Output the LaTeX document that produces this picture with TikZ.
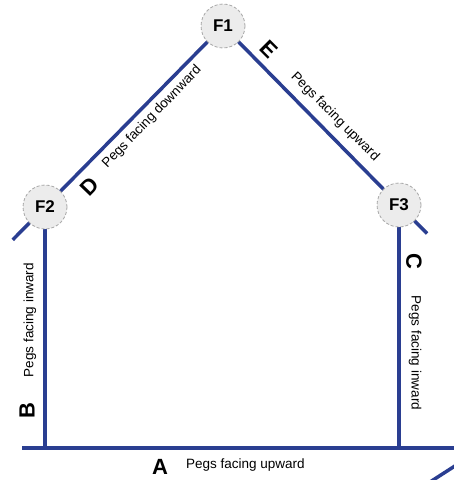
\documentclass[tikz,border=0pt]{standalone}
\usepackage{fontspec}
\setmainfont{Liberation Sans}
\usetikzlibrary{calc,backgrounds}
\definecolor{wallblue}{RGB}{42,62,145}

\begin{document}
\begin{tikzpicture}[x=1pt, y=-1pt,
  wall/.style={draw=wallblue, line width=3.5pt},
  fixpt/.style={circle, draw=gray!70, densely dashed, line width=0.8pt, fill=gray!15, minimum size=44pt, inner sep=0pt, font=\fontsize{17}{17}\selectfont\bfseries},
  sidelbl/.style={inner sep=0pt, font=\fontsize{22}{22}\selectfont\bfseries},
  pegnote/.style={inner sep=0pt, font=\fontsize{13.5}{13.5}\selectfont}]
 \clip (0,0) rectangle (454,480);

 \node[fixpt] (F1) at (223,26) {F1};
 \node[fixpt] (F2) at (45,207) {F2};
 \node[fixpt] (F3) at (399,205) {F3};

 \coordinate (baseL) at (22,448);
 \coordinate (baseR) at (460,448);
 \coordinate (roofL) at ($(F2.center)!-46pt!(F1.center)$);
 \coordinate (roofR) at ($(F3.center)!-40pt!(F1.center)$);
 \coordinate (cutA) at (430,482);
 \coordinate (cutB) at (458,464);

 \begin{scope}[on background layer]
  \draw[wall] (roofL) -- (F1.center) -- (roofR);
  \draw[wall] (F2.center) -- (F2.center |- baseL);
  \draw[wall] (F3.center) -- (F3.center |- baseL);
  \draw[wall, line width=4.5pt] (baseL) -- (baseR);
  \draw[wall] (cutA) -- (cutB);
 \end{scope}

 % side letters and peg notes
 \node[sidelbl] (A) at (160,467) {A};
 \node[pegnote, anchor=west] (notea) at (186,465) {Pegs facing upward};
 \node[sidelbl, rotate=90] (B) at (27,411) {B};
 \node[pegnote, rotate=90] (noteb) at (30,320) {Pegs facing inward};
 \node[sidelbl, rotate=-90] (C) at (414,261) {C};
 \node[pegnote, rotate=-90] (notec) at (415,353) {Pegs facing inward};
 \node[sidelbl, rotate=46] (D) at (90,187) {D};
 \node[pegnote, rotate=46] (noted) at (152,117) {Pegs facing downward};
 \node[sidelbl, rotate=-45] (E) at (269,49) {E};
 \node[pegnote, rotate=-45] (notee) at (335,117) {Pegs facing upward};
\end{tikzpicture}
\end{document}
